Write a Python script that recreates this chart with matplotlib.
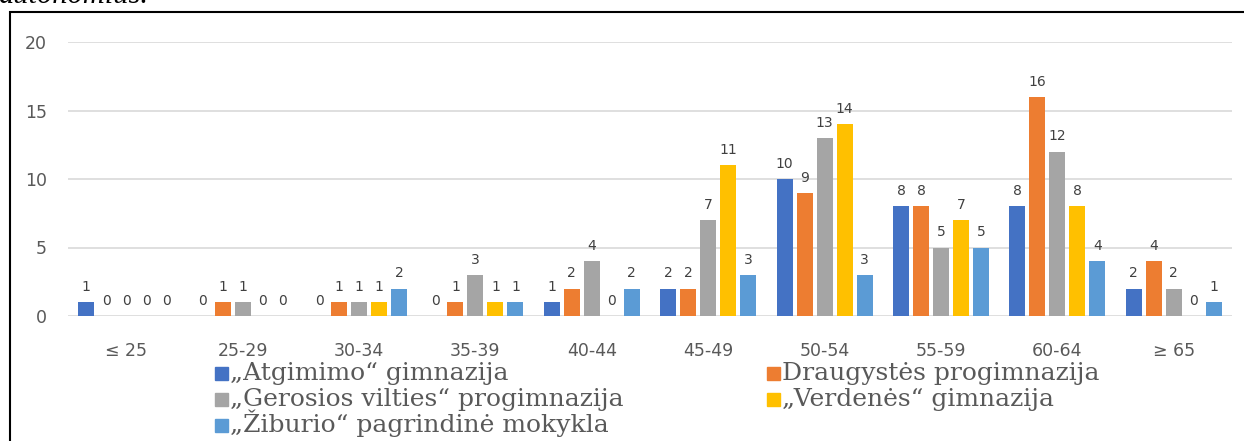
import matplotlib
matplotlib.use("Agg")
import matplotlib.pyplot as plt
from matplotlib.patches import Rectangle
import numpy as np

categories = ["≤ 25", "25-29", "30-34", "35-39", "40-44", "45-49", "50-54", "55-59", "60-64", "≥ 65"]
series_names = ["„Atgimimo“ gimnazija", "Draugystės progimnazija",
                "„Gerosios vilties“ progimnazija", "„Verdenės“ gimnazija",
                "„Žiburio“ pagrindinė mokykla"]
atgimimo = [1, 0, 0, 0, 1, 2, 10, 8, 8, 2]
draugystes = [0, 1, 1, 1, 2, 2, 9, 8, 16, 4]
gerosios = [0, 1, 1, 3, 4, 7, 13, 5, 12, 2]
verdenes = [0, 0, 1, 1, 0, 11, 14, 7, 8, 0]
ziburio = [0, 0, 2, 1, 2, 3, 3, 5, 4, 1]
colors = ["#4472C4", "#ED7D31", "#A5A5A5", "#FFC000", "#5B9BD5"]
yticks = [0, 5, 10, 15, 20]

series = [atgimimo, draugystes, gerosios, verdenes, ziburio]

W, H = 1244, 441
fig = plt.figure(figsize=(W / 100, H / 100), dpi=100)

# plot area
left, right = 68 / W, 1232 / W
bottom, top = (H - 316) / H, (H - 42) / H
ax = fig.add_axes([left, bottom, right - left, top - bottom])

x = np.arange(len(categories))
pitch = 20 / 116.4
width = 16 / 116.4
for i, (vals, c) in enumerate(zip(series, colors)):
    off = (i - 2) * pitch
    ax.bar(x + off, vals, width=width, color=c, zorder=3)
    for xi, v in zip(x + off, vals):
        ax.annotate(str(v), (xi, v), xytext=(0, 8), textcoords="offset points",
                    ha="center", va="baseline", fontsize=10, color="#404040",
                    family="DejaVu Sans")

ax.set_xlim(-0.5, len(categories) - 0.5)
ax.set_ylim(0, 20)
ax.set_yticks(yticks)
ax.set_xticks(x)
ax.set_xticklabels(categories)
ax.yaxis.grid(True, color="#D9D9D9", linewidth=1.2, zorder=0)
for s in ax.spines.values():
    s.set_visible(False)
ax.tick_params(axis="both", length=0, labelcolor="#595959")
ax.tick_params(axis="y", pad=15, labelsize=12.5)
ax.tick_params(axis="x", pad=19, labelsize=12.5)
for lab in ax.get_xticklabels() + ax.get_yticklabels():
    lab.set_family("DejaVu Sans")

# legend drawn manually
slots = [(215, 380), (767, 380), (215, 406), (767, 406), (215, 432)]
for name, c, (lx, ly) in zip(series_names, colors, slots):
    sq = 13
    fig.patches.append(Rectangle((lx / W, (H - ly) / H), sq / W, sq / H,
                                 transform=fig.transFigure, color=c, figure=fig))
    fig.text((lx + sq + 2) / W, (H - ly) / H, name, ha="left", va="baseline",
             fontsize=18, color="#595959", family="DejaVu Serif")

# border box
fig.patches.append(Rectangle((10 / W, -0.1), 1.2, (H - 12) / H + 0.1,
                             transform=fig.transFigure, fill=False,
                             edgecolor="black", linewidth=1.5, figure=fig))

# cut-off text at top
fig.text(-2 / W, (H - 3) / H, "autonomius.", ha="left", va="baseline",
         fontsize=22, style="italic", color="black", family="Liberation Serif")

fig.savefig("out.png", dpi=100)
